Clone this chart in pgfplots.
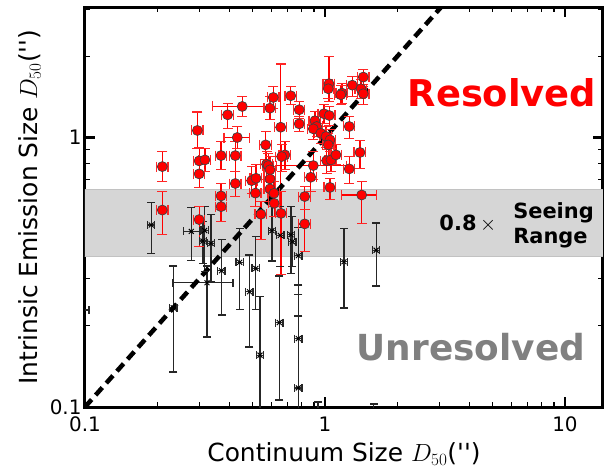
\documentclass[border=0pt]{standalone}
\usepackage{fontspec}
\setmainfont{DejaVu Sans}[Ligatures=TeXOff]
\usepackage{pgfplots}
\usepackage{pgfplotstable}
\pgfplotsset{compat=1.18}

% resolved (red), small x errors
\pgfplotstableread{
x y ylo yhi
0.210 0.780 0.686 0.887
0.210 0.538 0.437 0.630
0.294 1.062 0.908 1.242
0.299 0.819 0.735 0.918
0.316 0.826 0.747 0.910
0.299 0.733 0.652 0.814
0.299 0.496 0.393 0.554
0.393 1.214 1.083 1.341
0.369 0.857 0.760 0.966
0.423 0.857 0.747 0.966
0.423 0.675 0.604 0.747
0.369 0.607 0.540 0.675
0.369 0.554 0.487 0.604
0.590 1.285 1.166 1.420
0.609 1.408 1.282 1.548
0.654 1.092 0.630 1.873
0.720 1.429 1.326 1.548
0.781 1.268 1.177 1.361
0.781 1.124 1.053 1.197
0.566 0.939 0.828 1.053
0.681 0.862 0.760 0.966
0.660 0.850 0.747 0.942
0.571 0.796 0.698 0.887
0.580 0.787 0.710 0.872
0.590 0.759 0.686 0.850
0.590 0.702 0.630 0.780
0.495 0.692 0.619 0.780
0.516 0.706 0.630 0.794
0.513 0.622 0.554 0.686
0.590 0.645 0.578 0.716
0.613 0.621 0.554 0.686
0.614 0.570 0.508 0.630
0.872 0.712 0.630 0.814
0.823 0.604 0.540 0.657
0.823 0.478 0.377 0.604
1.039 1.584 1.361 2.000
1.032 1.517 1.396 1.643
1.177 1.461 1.338 1.587
1.163 1.441 1.326 1.561
1.299 1.564 1.420 1.686
1.444 1.676 1.548 1.789
1.413 1.517 1.396 1.643
1.444 1.454 1.326 1.574
0.990 1.225 1.127 1.326
1.042 1.207 1.108 1.304
0.908 1.154 1.053 1.249
0.924 1.099 1.009 1.197
0.894 1.077 0.983 1.166
0.960 1.037 0.950 1.127
1.010 1.009 0.918 1.099
1.049 0.980 0.887 1.071
1.032 0.939 0.814 1.035
1.016 0.821 0.735 0.902
1.059 0.826 0.747 0.910
1.111 0.862 0.794 0.942
1.262 1.099 0.991 1.197
1.399 0.880 0.767 0.975
1.262 0.765 0.675 0.850
1.049 0.653 0.588 0.704
0.541 0.519 0.418 0.578
0.656 0.523 0.310 0.630
}\redmain

% resolved (red), wide x errors
\pgfplotstableread{
x y xlo xhi ylo yhi
0.452 1.304 0.340 0.590 1.197 1.420
0.431 1.000 0.380 0.484 0.910 1.099
0.894 0.787 0.629 1.231 0.698 0.887
1.422 0.612 1.174 1.642 0.479 0.686
}\redwide

% unresolved (black), small x errors
\pgfplotstableread{
x y ylo yhi
0.1888 0.4736 0.3713 0.573
0.3152 0.4520 0.3177 0.554
0.3101 0.4130 0.340 0.487
0.3350 0.4046 0.2915 0.519
0.3705 0.3204 0.2193 0.4187
0.2333 0.2333 0.1349 0.3334
0.4411 0.3444 0.2294 0.4600
0.4846 0.2677 0.1671 0.3663
0.5149 0.3267 0.2294 0.4285
0.5360 0.1557 0.09 0.2564
0.6013 0.4510 0.3480 0.554
0.6515 0.4333 0.3315 0.554
0.6452 0.2058 0.1062 0.3061
0.7217 0.4359 0.3122 0.554
0.7307 0.4106 0.3315 0.508
0.7740 0.3641 0.2616 0.4628
0.7740 0.1795 0.09 0.2834
0.7740 0.1177 0.09 0.2174
1.200 0.3459 0.2333 0.4600
1.634 0.3817 0.2810 0.4815
1.596 0.0879 0.08 0.1026
0.935 0.0808 0.07 0.1044
}\blackmain

% unresolved (black), wide x errors
\pgfplotstableread{
x y xlo xhi ylo yhi
0.2773 0.4483 0.2568 0.3014 0.3499 0.5508
0.3223 0.2891 0.2319 0.4137 0.1821 0.3334
0.0866 0.2288 0.075 0.1039 0.2288 0.2288
}\blackwide

\pgfplotsset{
  bpt/.style={black!85, only marks, mark=x, mark size=3.5bp, mark options={line width=1bp, black},
    error bars/.cd, x dir=both, y dir=both, x explicit, y explicit, error mark=none,
    error bar style={black!85, line width=1.3bp}},
  rpt/.style={red, only marks, mark=*, mark size=5bp, mark options={fill=red, draw=black!75, line width=0.7bp},
    error bars/.cd, x dir=both, y dir=both, x explicit, y explicit, error mark=none,
    error bar style={red, line width=1.2bp}},
  ycapb/.style={black!85, only marks, mark=-, mark size=4bp, mark options={line width=1.3bp}, forget plot},
  xcapb/.style={black!85, only marks, mark=|, mark size=4bp, mark options={line width=1.3bp}, forget plot},
  ycapr/.style={red!85!white, only marks, mark=-, mark size=5bp, mark options={line width=1.3bp}, forget plot},
  xcapr/.style={red!85!white, only marks, mark=|, mark size=5bp, mark options={line width=1.3bp}, forget plot},
}

\begin{document}
\begin{tikzpicture}
\begin{axis}[
  scale only axis, width=518bp, height=400bp,
  xmode=log, ymode=log,
  xmin=0.1, xmax=14.4, ymin=0.1, ymax=3.05,
  xtick={0.1,1,10}, xticklabels={0.1,1,10},
  ytick={0.1,1}, yticklabels={0.1,1},
  minor xtick={0.2,0.3,0.4,0.5,0.6,0.7,0.8,0.9,2,3,4,5,6,7,8,9},
  minor ytick={0.2,0.3,0.4,0.5,0.6,0.7,0.8,0.9,2,3},
  tick label style={font=\fontsize{20}{24}\selectfont},
  xticklabel style={yshift=-6bp},
  xlabel={Continuum Size $D_{50}$('')},
  ylabel={Intrinsic Emission Size $D_{50}$('')},
  label style={font=\fontsize{25}{30}\selectfont},
  xlabel style={yshift=-4bp},
  ylabel style={yshift=2bp},
  tick align=inside,
  major tick length=10bp, minor tick length=5bp,
  every major tick/.append style={line width=2.5bp, black},
  every minor tick/.append style={line width=1.2bp, black},
  axis line style={line width=3bp},
]
\addplot[draw=black!24, fill=black!16, line width=1bp, forget plot]
  coordinates {(0.05,0.361) (30,0.361) (30,0.641) (0.05,0.641)} -- cycle;

% unresolved
\addplot[bpt]
  table[x=x, y=y, y error plus expr=\thisrow{yhi}-\thisrow{y}, y error minus expr=\thisrow{y}-\thisrow{ylo},
        x error expr=0.035*\thisrow{x}] {\blackmain};
\addplot[ycapb] table[x=x, y=yhi] {\blackmain};
\addplot[ycapb] table[x=x, y=ylo] {\blackmain};
\addplot[xcapb] table[x expr=1.035*\thisrow{x}, y=y] {\blackmain};
\addplot[xcapb] table[x expr=0.965*\thisrow{x}, y=y] {\blackmain};
\addplot[bpt]
  table[x=x, y=y, y error plus expr=\thisrow{yhi}-\thisrow{y}, y error minus expr=\thisrow{y}-\thisrow{ylo},
        x error plus expr=\thisrow{xhi}-\thisrow{x}, x error minus expr=\thisrow{x}-\thisrow{xlo}] {\blackwide};
\addplot[ycapb] table[x=x, y=yhi] {\blackwide};
\addplot[ycapb] table[x=x, y=ylo] {\blackwide};
\addplot[xcapb] table[x=xhi, y=y] {\blackwide};
\addplot[xcapb] table[x=xlo, y=y] {\blackwide};

% resolved
\addplot[ycapr] table[x=x, y=yhi] {\redmain};
\addplot[ycapr] table[x=x, y=ylo] {\redmain};
\addplot[xcapr] table[x expr=1.055*\thisrow{x}, y=y] {\redmain};
\addplot[xcapr] table[x expr=0.945*\thisrow{x}, y=y] {\redmain};
\addplot[ycapr] table[x=x, y=yhi] {\redwide};
\addplot[ycapr] table[x=x, y=ylo] {\redwide};
\addplot[xcapr] table[x=xhi, y=y] {\redwide};
\addplot[xcapr] table[x=xlo, y=y] {\redwide};
\addplot[rpt]
  table[x=x, y=y, y error plus expr=\thisrow{yhi}-\thisrow{y}, y error minus expr=\thisrow{y}-\thisrow{ylo},
        x error expr=0.055*\thisrow{x}] {\redmain};
\addplot[rpt]
  table[x=x, y=y, y error plus expr=\thisrow{yhi}-\thisrow{y}, y error minus expr=\thisrow{y}-\thisrow{ylo},
        x error plus expr=\thisrow{xhi}-\thisrow{x}, x error minus expr=\thisrow{x}-\thisrow{xlo}] {\redwide};

\addplot[black, line width=4.5bp, dash pattern=on 10bp off 6bp] coordinates {(0.1,0.1) (3.1,3.1)};

\node[text=red, font=\bfseries\fontsize{37}{40}\selectfont] at (rel axis cs:0.805,0.785) {Resolved};
\node[text=black!50, font=\bfseries\fontsize{36}{40}\selectfont] at (rel axis cs:0.745,0.15) {Unresolved};
\node[font=\bfseries\fontsize{21}{25}\selectfont] at (rel axis cs:0.739,0.4575) {0.8\,$\times$};
\node[font=\bfseries\fontsize{21}{25}\selectfont, align=left, anchor=west] at (rel axis cs:0.82,0.454) {Seeing\\Range};
\end{axis}
\pgfresetboundingbox
\useasboundingbox ([xshift=-85bp,yshift=-63bp]current axis.south west) rectangle ([xshift=2bp,yshift=7bp]current axis.north east);
\end{tikzpicture}
\end{document}
